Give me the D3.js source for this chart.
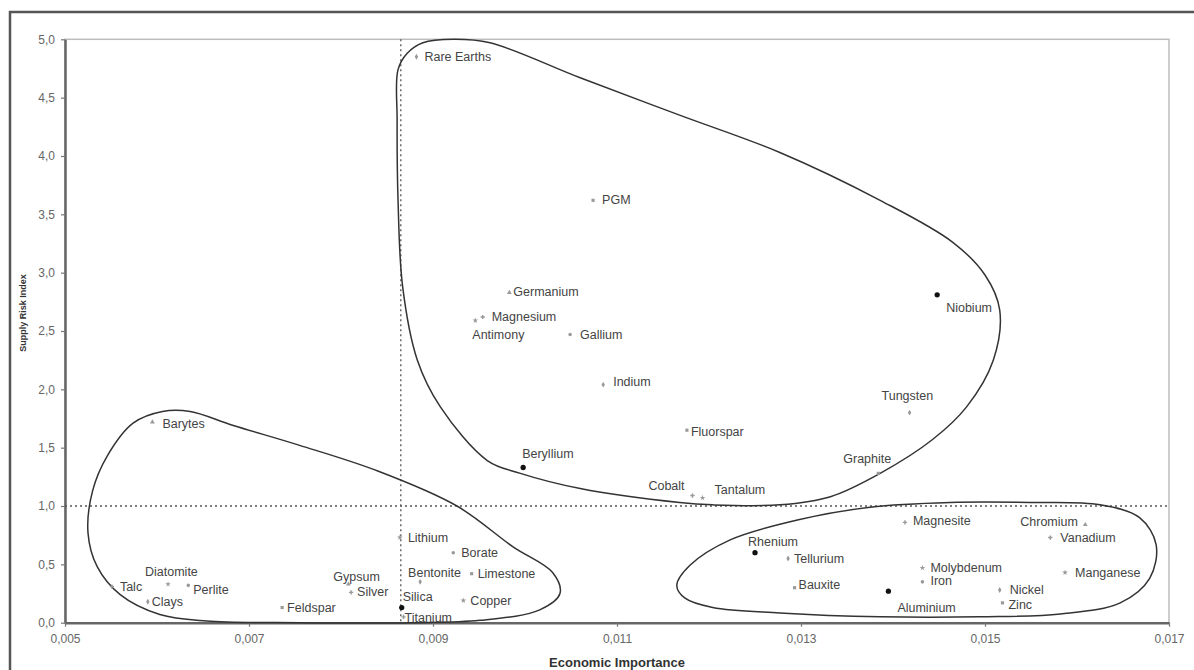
<!DOCTYPE html>
<html><head><meta charset="utf-8">
<script src="https://cdn.jsdelivr.net/npm/d3@7"></script>
<style>
body{margin:0;background:#fff;}
svg{display:block;font-family:"Liberation Sans",Arial,sans-serif;}
</style>
</head><body>
<svg id="chart" width="1194" height="670"></svg>
<script>
// ---------------- DATA ----------------
const minerals = ["Rare Earths","PGM","Germanium","Magnesium","Antimony","Gallium","Indium","Fluorspar",
  "Beryllium","Cobalt","Tantalum","Niobium","Tungsten","Graphite",
  "Barytes","Talc","Diatomite","Perlite","Clays","Feldspar","Gypsum","Silver","Lithium","Borate",
  "Bentonite","Limestone","Silica","Titanium","Copper",
  "Rhenium","Tellurium","Bauxite","Aluminium","Magnesite","Molybdenum","Iron","Nickel","Zinc",
  "Chromium","Vanadium","Manganese"];
const economicImportance = [0.00882,0.01074,0.00983,0.00954,0.00946,0.01049,0.01085,0.01176,
  0.00998,0.01182,0.01193,0.01448,0.01418,0.01384,
  0.00595,0.00551,0.00612,0.00634,0.00590,0.00736,0.00808,0.00811,0.00864,0.00922,
  0.00886,0.00942,0.00866,0.00868,0.00933,
  0.01250,0.01286,0.01293,0.01395,0.01413,0.01432,0.01432,0.01516,0.01519,
  0.01609,0.01571,0.01587];
const supplyRisk = [4.85,3.62,2.83,2.62,2.59,2.47,2.04,1.65,
  1.33,1.09,1.07,2.81,1.80,1.28,
  1.72,0.31,0.33,0.32,0.18,0.13,0.33,0.26,0.73,0.60,
  0.35,0.42,0.13,0.05,0.19,
  0.60,0.55,0.30,0.27,0.86,0.47,0.35,0.28,0.17,
  0.84,0.73,0.43];
const xTicks = [0.005,0.007,0.009,0.011,0.013,0.015,0.017];
const yTicks = [0,0.5,1,1.5,2,2.5,3,3.5,4,4.5,5];
const xTitle = "Economic Importance";
const yTitle = "Supply Risk Index";
const criticalX = 0.00865;
const criticalY = 1.0;
// hand-drawn group outlines (data units)
const groupHigh = [[0.00862,3.62],[0.00861,4.31],[0.00862,4.74],[0.00872,4.88],[0.00889,4.97],[0.00922,5.0],
  [0.00962,4.97],[0.0106,4.67],[0.01168,4.35],[0.01277,4.03],[0.01386,3.62],[0.01465,3.26],[0.0150,2.98],
  [0.01516,2.68],[0.01509,2.25],[0.0148,1.85],[0.01443,1.57],[0.01386,1.28],[0.01332,1.08],[0.01277,1.01],
  [0.01204,1.01],[0.01168,1.03],[0.0106,1.15],[0.00995,1.28],[0.00959,1.39],[0.00908,1.85],[0.00883,2.25],[0.00867,2.88]];
const groupLow = [[0.00546,1.43],[0.00574,1.71],[0.00606,1.81],[0.00636,1.81],[0.00683,1.69],[0.00755,1.52],
  [0.0084,1.30],[0.00926,1.0],[0.00987,0.65],[0.0103,0.43],[0.01038,0.25],[0.01016,0.11],
  [0.00951,0.02],[0.00878,0.0],[0.00755,0.0],[0.00654,0.015],[0.00603,0.07],[0.0056,0.24],[0.00535,0.48],
  [0.00525,0.77],[0.0053,1.13]];
const groupEcon = [[0.01165,0.32],[0.01179,0.49],[0.01223,0.71],[0.01296,0.88],[0.01375,0.99],[0.01462,1.03],
  [0.01549,1.03],[0.01625,1.01],[0.01668,0.9],[0.01686,0.67],[0.01679,0.38],[0.01647,0.17],[0.01582,0.075],
  [0.01495,0.05],[0.01386,0.05],[0.01277,0.083],[0.01204,0.13],[0.01174,0.21]];

// ---------------- LAYOUT / STYLE ----------------
const labelOffsets = {
  "Rare Earths":[8,0],"PGM":[9,0],"Germanium":[4,0],"Magnesium":[9,0],"Antimony":[-3,15],"Gallium":[10,0],
  "Indium":[10,-3],"Fluorspar":[4,2],"Beryllium":[-1,-14],"Cobalt":[-44,-10],"Tantalum":[12,-8],
  "Niobium":[9,13],"Tungsten":[-28,-17],"Graphite":[-35,-14],
  "Barytes":[10,2],"Talc":[8,0],"Diatomite":[-23,-12],"Perlite":[5,5],"Clays":[4,0],"Feldspar":[5,0],
  "Gypsum":[-15,-7],"Silver":[6,0],"Lithium":[8,0],"Borate":[8,0],"Bentonite":[-12,-9],"Limestone":[6,0],
  "Silica":[1,-11],"Titanium":[1,1],"Copper":[7,0],
  "Rhenium":[-7,-11],"Tellurium":[6,0],"Bauxite":[4,-3],"Aluminium":[9,17],"Magnesite":[8,-1],
  "Molybdenum":[8,0],"Iron":[8,-1],"Nickel":[10,0],"Zinc":[6,2],"Chromium":[-65,-3],"Vanadium":[10,0],"Manganese":[10,0]
};
const darkDots = new Set(["Beryllium","Niobium","Rhenium","Aluminium","Silica"]);
const symbolCycle = [d3.symbolDiamond,d3.symbolSquare,d3.symbolTriangle,d3.symbolCross,d3.symbolStar,d3.symbolCircle];

const svg = d3.select("#chart");
const x = d3.scaleLinear().domain([0.005,0.017]).range([65,1169]);
const y = d3.scaleLinear().domain([0,5]).range([622.7,39.3]);

// outer frame
svg.append("rect").attr("x",10).attr("y",12).attr("width",1200).attr("height",700)
  .attr("fill","#fff").attr("stroke","#555").attr("stroke-width",2.5);

// plot area border (top/right light)
svg.append("rect").attr("x",x(0.005)).attr("y",y(5)).attr("width",x(0.017)-x(0.005)).attr("height",y(0)-y(5))
  .attr("fill","none").attr("stroke","#bdbdbd").attr("stroke-width",1.5);

// axes
const fmtY = d => d3.format(".1f")(d).replace(".",",");
const fmtX = d => d3.format(".3f")(d).replace(".",",");
const gy = svg.append("g").attr("transform",`translate(${x(0.005)},0)`)
  .call(d3.axisLeft(y).tickValues(yTicks).tickFormat(fmtY).tickSize(4).tickPadding(6).tickSizeOuter(0));
const gx = svg.append("g").attr("transform",`translate(0,${y(0)})`)
  .call(d3.axisBottom(x).tickValues(xTicks).tickFormat(fmtX).tickSize(4).tickPadding(8).tickSizeOuter(0));
[gx,gy].forEach(g=>{
  g.select(".domain").attr("stroke","#666").attr("stroke-width",2.5);
  g.selectAll(".tick line").attr("stroke","#777").attr("stroke-width",1.2);
  g.selectAll(".tick text").attr("fill","#666").attr("font-size",12).attr("font-family","Liberation Sans, Arial, sans-serif");
});

// critical threshold lines
svg.append("line").attr("x1",x(criticalX)).attr("x2",x(criticalX)).attr("y1",y(5)).attr("y2",y(0))
  .attr("stroke","#555").attr("stroke-width",1.3).attr("stroke-dasharray","2,3");
svg.append("line").attr("x1",x(0.005)).attr("x2",x(0.017)).attr("y1",y(criticalY)).attr("y2",y(criticalY))
  .attr("stroke","#555").attr("stroke-width",1.3).attr("stroke-dasharray","2,3");

// group outlines
const outline = d3.line().x(d=>x(d[0])).y(d=>y(d[1])).curve(d3.curveCatmullRomClosed.alpha(0.5));
[groupHigh,groupLow,groupEcon].forEach(g=>{
  svg.append("path").attr("d",outline(g)).attr("fill","none").attr("stroke","#333").attr("stroke-width",1.5);
});

// points
const pts = minerals.map((m,i)=>({name:m,x:economicImportance[i],y:supplyRisk[i],i}));
const pg = svg.append("g");
pg.selectAll("path.pt").data(pts).join("path").attr("class","pt")
  .attr("transform",d=>`translate(${x(d.x)},${y(d.y)})`)
  .attr("d",d=> darkDots.has(d.name) ? d3.symbol(d3.symbolCircle,22)() : d3.symbol(symbolCycle[d.i%symbolCycle.length],10)())
  .attr("fill",d=> darkDots.has(d.name) ? "#111" : "#999");
pg.selectAll("text").data(pts).join("text")
  .attr("x",d=>x(d.x)+labelOffsets[d.name][0])
  .attr("y",d=>y(d.y)+labelOffsets[d.name][1])
  .attr("dominant-baseline","central")
  .attr("font-size",12.5).attr("fill","#444")
  .text(d=>d.name);

// titles
svg.append("text").attr("x",617).attr("y",662).attr("text-anchor","middle")
  .attr("dominant-baseline","central").attr("font-size",13).attr("font-weight","bold").attr("fill","#333").text(xTitle);
svg.append("text").attr("transform",`translate(23,313) rotate(-90)`).attr("text-anchor","middle")
  .attr("dominant-baseline","central").attr("font-size",9).attr("font-weight","bold").attr("fill","#333").text(yTitle);
</script>
</body></html>
